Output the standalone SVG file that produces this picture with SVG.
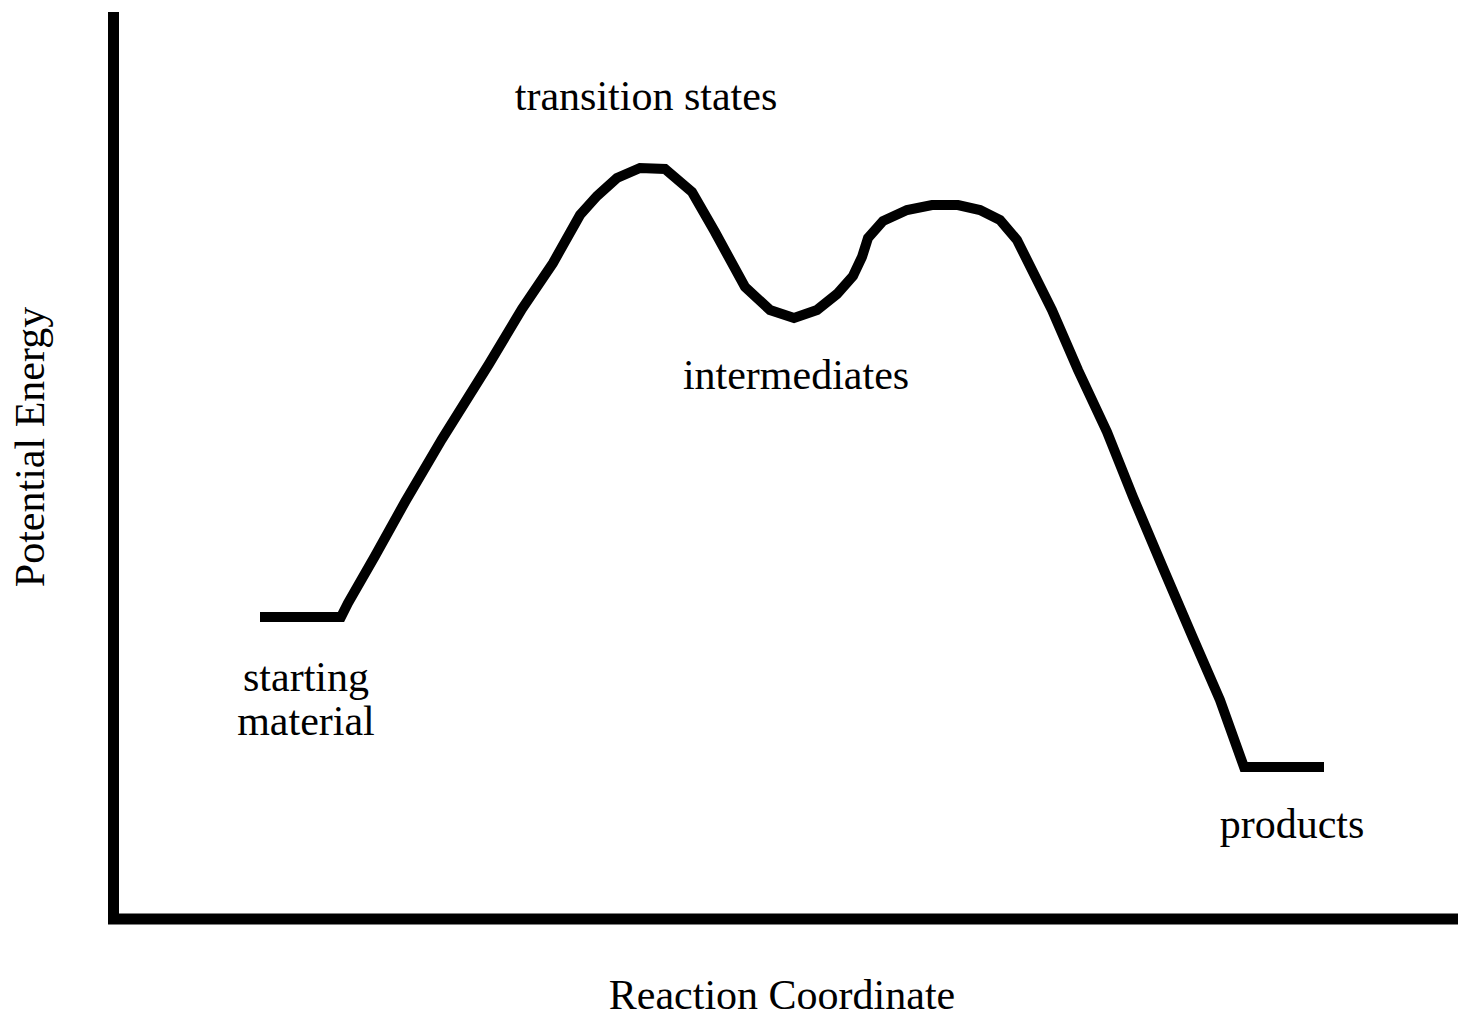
<svg xmlns="http://www.w3.org/2000/svg" width="1459" height="1019" viewBox="0 0 1459 1019">
<style>
.lbl{font-family:"Liberation Serif","Times New Roman",serif;font-size:42px;fill:#000}
.axis{fill:none;stroke:#000;stroke-width:11;stroke-linejoin:miter}
.curve{fill:none;stroke:#000;stroke-width:10;stroke-linejoin:miter;stroke-linecap:butt}
</style>
<rect width="1459" height="1019" fill="#fff"/>
<g id="axes">
<polyline class="axis" points="113.5,12 113.5,919 1458,919"/>
</g>
<g id="connectors">
<polyline class="curve" points="260,617 341,617 348,603 375,556 405,502 442,439 489,364 522,309 553,263 580,215 597,196 617,178 640,168 665,169 692,192 715,232 745,287 770,310 794,318 817,310 837,294 853,276 862,257 868,238 883,221 907,210 932,205 958,205 980,210 1000,220 1017,240 1052,310 1078,370 1107,432 1133,497 1163,568 1193,638 1220,700 1244,767 1324,767"/>
</g>
<g id="transition-states"><text class="lbl" x="646" y="110" text-anchor="middle">transition states</text></g>
<g id="intermediates"><text class="lbl" x="796" y="389" text-anchor="middle">intermediates</text></g>
<g id="starting-material"><text class="lbl" x="306" y="691" text-anchor="middle">starting</text><text class="lbl" x="306" y="735" text-anchor="middle">material</text></g>
<g id="products"><text class="lbl" x="1292" y="838" text-anchor="middle">products</text></g>
<g id="y-label"><text class="lbl" x="0" y="0" text-anchor="middle" transform="translate(44,447) rotate(-90)">Potential Energy</text></g>
<g id="x-label"><text class="lbl" x="782" y="1009" text-anchor="middle">Reaction Coordinate</text></g>
</svg>
